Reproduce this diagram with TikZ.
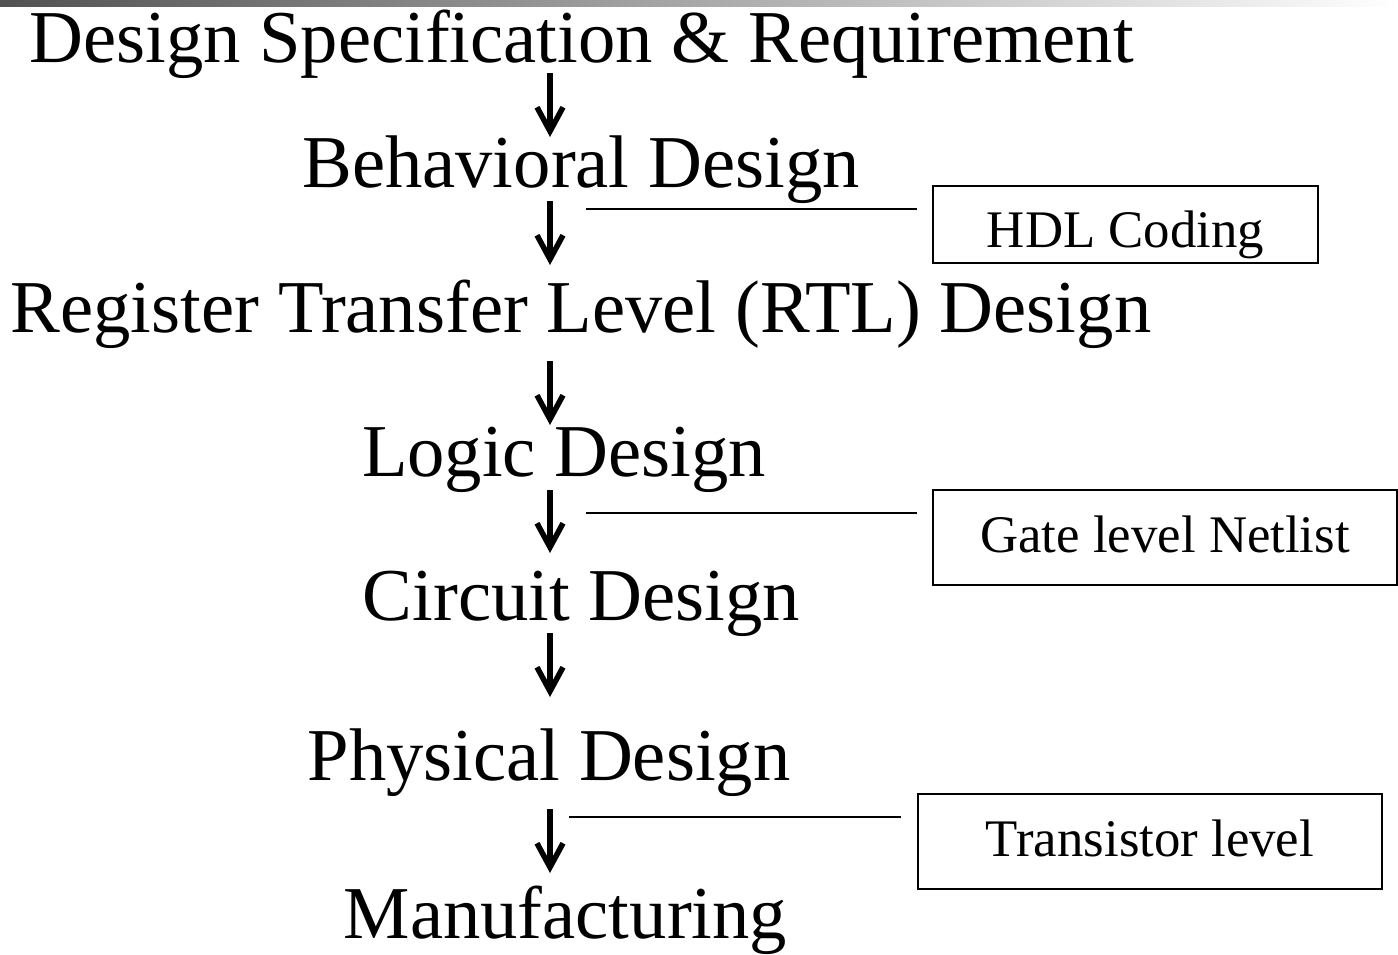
\documentclass[tikz,border=0pt]{standalone}
\usepackage{fontspec}
\setmainfont{Liberation Serif}
\usetikzlibrary{arrows.meta}
\begin{document}
\begin{tikzpicture}[x=1pt,y=-1pt,
  stage/.style={anchor=base,inner sep=0pt,font=\fontsize{74.6}{80}\selectfont},
  note/.style={draw,line width=2pt,inner sep=0pt,text depth=0pt,font=\fontsize{52.8}{58}\selectfont},
  flow/.style={line width=5.5pt,-{Straight Barb[length=24pt,width=26pt,line width=5.5pt]}},
  link/.style={line width=2pt}]
\useasboundingbox (0,0) rectangle (1398,954);
\shade[left color=black!68,right color=white] (0,0) rectangle (1398,6);
% stages
\node[stage] (s1) at (581.5,62) {Design Specification \& Requirement};
\node[stage] (s2) at (581,187) {Behavioral Design};
\node[stage] (s3) at (581,332) {Register Transfer Level (RTL) Design};
\node[stage] (s4) at (564,476) {Logic Design};
\node[stage] (s5) at (581.5,620) {Circuit Design};
\node[stage] (s6) at (549,780) {Physical Design};
\node[stage] (s7) at (565.5,938) {Manufacturing};
% arrows
\coordinate (a1s) at (550,73);  \coordinate (a1e) at (550,137);
\coordinate (a2s) at (550,201); \coordinate (a2e) at (550,265);
\coordinate (a3s) at (550,361); \coordinate (a3e) at (550,425);
\coordinate (a4s) at (550,490); \coordinate (a4e) at (550,553);
\coordinate (a5s) at (550,633); \coordinate (a5e) at (550,697);
\coordinate (a6s) at (550,809); \coordinate (a6e) at (550,873);
\foreach \i in {1,...,6} {\draw[flow] (a\i s) -- (a\i e);}
% notes
\node[note,text height=45pt,minimum width=385pt,minimum height=77pt] (n1) at (1125.5,224.5) {HDL Coding};
\node[note,text height=30pt,minimum width=464pt,minimum height=95pt] (n2) at (1165,537.5) {Gate level Netlist};
\node[note,text height=30pt,minimum width=464pt,minimum height=95pt] (n3) at (1150,841.5) {Transistor level};
% side lines
\coordinate (l1s) at (586,209); \coordinate (l1e) at (917,209);
\coordinate (l2s) at (586,513); \coordinate (l2e) at (917,513);
\coordinate (l3s) at (569,817); \coordinate (l3e) at (901,817);
\draw[link] (l1s) -- (l1e);
\draw[link] (l2s) -- (l2e);
\draw[link] (l3s) -- (l3e);
\end{tikzpicture}
\end{document}
